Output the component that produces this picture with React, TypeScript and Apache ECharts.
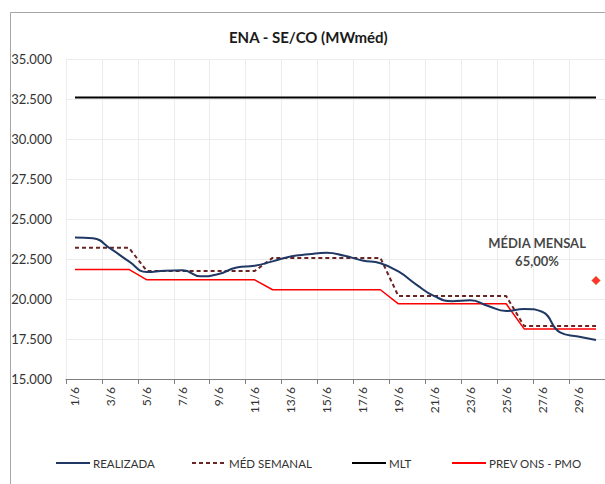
import React, { useEffect, useRef } from "react";
import * as echarts from "echarts";

const days = [
  "1/6", "2/6", "3/6", "4/6", "5/6", "6/6", "7/6", "8/6", "9/6", "10/6",
  "11/6", "12/6", "13/6", "14/6", "15/6", "16/6", "17/6", "18/6", "19/6", "20/6",
  "21/6", "22/6", "23/6", "24/6", "25/6", "26/6", "27/6", "28/6", "29/6", "30/6",
];

const realizada = [
  23850, 23790, 23130, 22350, 21690, 21770, 21790, 21420, 21560, 21970,
  22080, 22350, 22660, 22790, 22890, 22700, 22410, 22230, 21720, 20900,
  20180, 19860, 19920, 19560, 19250, 19380, 19200, 17910, 17660, 17440,
];

const medSemanal = [
  23200, 23200, 23200, 23200, 21750, 21750, 21750, 21750, 21750, 21750,
  21750, 22570, 22570, 22570, 22570, 22570, 22570, 22570, 20180, 20180,
  20180, 20180, 20180, 20180, 20180, 18310, 18310, 18310, 18310, 18310,
];

const mlt = days.map(() => 32600);

const prevOns = [
  21850, 21850, 21850, 21850, 21200, 21200, 21200, 21200, 21200, 21200,
  21200, 20580, 20580, 20580, 20580, 20580, 20580, 20580, 19700, 19700,
  19700, 19700, 19700, 19700, 19700, 18130, 18130, 18130, 18130, 18130,
];

const mediaMensalValue = 21160;
const mediaMensalLabel = "MÉDIA MENSAL\n65,00%";

const seriesNames = ["REALIZADA", "MÉD SEMANAL", "MLT", "PREV ONS - PMO"];
const legendLefts = [50, 186, 346, 446];
const titleText = "ENA - SE/CO (MWméd)";

const FONT = "Lato, 'Noto Sans', sans-serif";

export default function App() {
  const ref = useRef<HTMLDivElement>(null);

  useEffect(() => {
    if (!ref.current) return;
    const chart = echarts.init(ref.current, undefined, { renderer: "svg" });
    chart.setOption({
      animation: false,
      backgroundColor: "#ffffff",
      textStyle: { fontFamily: FONT },
      title: {
        text: titleText,
        left: 224,
        top: 24,
        textStyle: { fontFamily: FONT, fontSize: 15, fontWeight: "bold", color: "#1a1a1a" },
      },
      graphic: [
        {
          type: "rect",
          shape: { x: 10.5, y: 12.5, width: 700, height: 600 },
          style: { fill: "none", stroke: "#a6a6a6", lineWidth: 1 },
          silent: true,
        },
      ],
      grid: { left: 66, top: 59, width: 540, height: 320 },
      legend: seriesNames.map((name, i) => ({
        data: [name],
        left: legendLefts[i],
        top: 452,
        itemWidth: 34,
        itemHeight: 12,
        itemStyle: { opacity: 0 },
        textStyle: { fontFamily: FONT, fontSize: 11.5, color: "#333333", padding: [0, 0, 0, -2] },
      })),
      xAxis: {
        type: "category",
        data: days,
        boundaryGap: true,
        axisLine: { show: true, lineStyle: { color: "#7f7f7f", width: 1 } },
        axisTick: { show: true, interval: 1, length: 5, lineStyle: { color: "#7f7f7f" } },
        axisLabel: {
          interval: 1,
          rotate: 90,
          margin: 8,
          fontFamily: FONT,
          fontSize: 12,
          color: "#333333",
        },
        splitLine: { show: true, interval: 1, lineStyle: { color: "#ececec", width: 1 } },
      },
      yAxis: {
        type: "value",
        min: 15000,
        max: 35000,
        interval: 2500,
        axisLine: { show: false },
        axisTick: { show: false },
        axisLabel: {
          margin: 14,
          fontFamily: FONT,
          fontSize: 13,
          color: "#333333",
          formatter: (v: number) => (v / 1000).toFixed(3),
        },
        splitLine: { show: true, lineStyle: { color: "#ececec", width: 1 } },
      },
      series: [
        {
          name: "REALIZADA",
          type: "line",
          data: realizada,
          smooth: 0.5,
          symbol: "none",
          lineStyle: { color: "#203864", width: 2 },
          itemStyle: { color: "#203864" },
          z: 5,
        },
        {
          name: "MÉD SEMANAL",
          type: "line",
          data: medSemanal,
          symbol: "none",
          lineStyle: { color: "#6b2424", width: 2, type: [4, 3] },
          itemStyle: { color: "#6b2424" },
          z: 4,
        },
        {
          name: "MLT",
          type: "line",
          data: mlt,
          symbol: "none",
          lineStyle: { color: "#000000", width: 2 },
          itemStyle: { color: "#000000" },
          z: 3,
        },
        {
          name: "PREV ONS - PMO",
          type: "line",
          data: prevOns,
          symbol: "none",
          lineStyle: { color: "#ff0000", width: 1.5 },
          itemStyle: { color: "#ff0000" },
          z: 3,
        },
        {
          name: "MÉDIA MENSAL",
          type: "scatter",
          data: [[days[days.length - 1], mediaMensalValue]],
          symbol: "diamond",
          symbolSize: 9,
          itemStyle: { color: "#ff0000", borderColor: "#c8b040", borderWidth: 0.6 },
          label: {
            show: true,
            formatter: mediaMensalLabel,
            position: "top",
            distance: 0,
            offset: [-59, -6],
            fontFamily: FONT,
            fontSize: 13,
            fontWeight: "bold",
            lineHeight: 18,
            color: "#111111",
            align: "center",
          },
          z: 6,
        },
      ],
    });
    return () => chart.dispose();
  }, []);

  return (
    <div
      ref={ref}
      style={{ position: "fixed", left: 0, top: 0, width: 605, height: 484, background: "#fff" }}
    />
  );
}
